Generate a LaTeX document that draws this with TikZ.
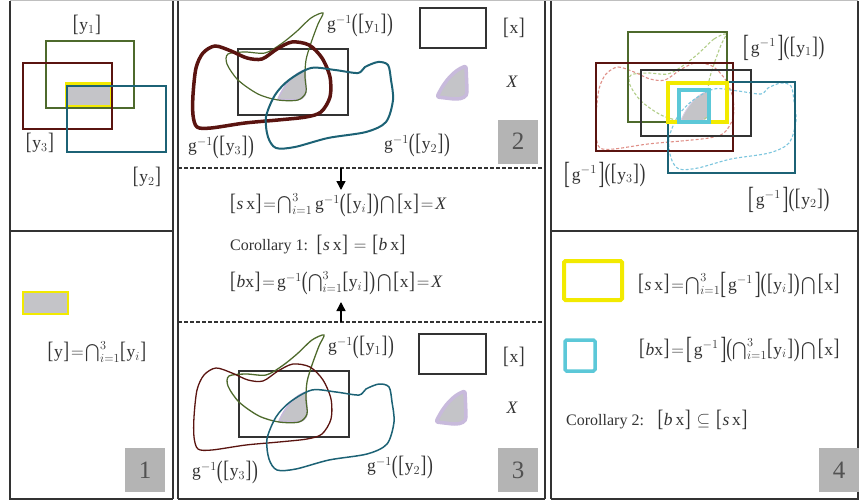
\RequirePackage{fix-cm}
\documentclass[tikz,border=0pt]{standalone}
\usepackage{amsmath}
\usepackage{fontspec}
\setmainfont{Liberation Serif}
\usetikzlibrary{arrows.meta}
\definecolor{fr}{HTML}{333333}
\definecolor{ygreen}{HTML}{4E6A2C}
\definecolor{yred}{HTML}{5A1410}
\definecolor{yteal}{HTML}{1C6275}
\definecolor{lgreen}{HTML}{B2CE88}
\definecolor{lred}{HTML}{E09088}
\definecolor{lteal}{HTML}{7CC6DE}
\definecolor{hyel}{HTML}{F2EA00}
\definecolor{hcyan}{HTML}{5CC8D8}
\definecolor{xgray}{HTML}{C4C4C8}
\definecolor{xlav}{HTML}{C8BADC}
\definecolor{numgray}{HTML}{B4B4B4}
\thickmuskip=2mu plus 1mu
\medmuskip=2mu plus 1mu
\newcommand{\sdelim}[3]{\mbox{\raisebox{#2}{\scalebox{1}[#3]{#1}}}}
\newcommand{\bk}[1]{\mathopen{\sdelim{[}{-0.05em}{1.35}}\mkern0.6mu#1\mkern0.6mu\mathclose{\sdelim{]}{-0.05em}{1.35}}}
\newcommand{\pa}[1]{\mathopen{\sdelim{(}{-0.08em}{1.45}}\mkern0.6mu#1\mkern0.6mu\mathclose{\sdelim{)}{-0.08em}{1.45}}}
\newcommand{\Bk}[1]{\mathopen{\sdelim{[}{-0.2em}{1.75}}\mkern2mu#1\mkern2mu\mathclose{\sdelim{]}{-0.2em}{1.75}}}
\newcommand{\ginv}{\mathrm{g}^{-1}}
\newcommand{\capop}{\mathbin{\textstyle\bigcap}}
\newcommand{\wordsz}{\fontsize{16}{19}\selectfont}
\newcommand{\redcurve}[1]{\draw[#1] plot[smooth cycle] coordinates {(203,53) (215,46) (231,51) (247,58) (262,59) (277,49) (292,42) (309,45) (322,58) (330,77) (330,97) (321,112) (306,117) (278,120) (245,123) (211,128) (197,127) (193,115) (193,95) (196,68)};}
\newcommand{\greencurve}[1]{\draw[#1] plot[smooth cycle] coordinates {(323,13) (311,18) (296,32) (281,44) (265,53) (245,52) (228,54) (227,64) (238,80) (258,94) (278,100) (298,100) (306,92) (305,77) (306,60) (311,43) (318,24)};}
\newcommand{\tealcurve}[1]{\draw[#1] plot[smooth cycle] coordinates {(268,137) (266,117) (275,95) (289,80) (311,68) (335,70) (358,73) (365,67) (378,62) (388,65) (391,80) (393,100) (386,122) (366,132) (328,138) (295,147) (276,148)};}
\newcommand{\xshape}[1]{\draw[#1] (278,99) .. controls (285,83) and (295,73) .. (305,70) -- (306,90) .. controls (306,98) and (301,100) .. (292,100) -- cycle;}
\newcommand{\xblob}[1]{\draw[#1] (437,97) .. controls (445,80) and (455,70) .. (466,66) -- (467,90) .. controls (467,97) and (462,99) .. (454,99) -- cycle;}
\tikzset{
  txt/.style={text=fr, font=\fontsize{17.5}{21}\selectfont, inner sep=0pt},
  numbox/.style={fill=numgray, minimum width=40pt, minimum height=44pt, inner sep=0pt, text=fr!85, font=\fontsize{25}{30}\selectfont},
  frameline/.style={draw=fr, line width=2.5pt},
  innerline/.style={draw=fr, line width=1.5pt},
  sep/.style={draw=fr, line width=1.3pt, dash pattern=on 4pt off 2pt},
  thinrect/.style={line width=1.2pt},
  blackrect/.style={draw=fr, line width=2.2pt},
  ldash/.style={line width=1.1pt, dash pattern=on 3pt off 2pt},
  arr/.style={draw=black, line width=1.4pt, -{Triangle[length=9pt,width=9pt]}}
}
\begin{document}
\begin{tikzpicture}[x=1pt,y=-1pt]
\useasboundingbox (0,0) rectangle (860,503);
\fill[white] (0,0) rectangle (860,503);
% ---------- frames ----------
\draw[frameline] (10,1) -- (10,499) -- (173,499);
\draw[innerline] (173,1) -- (173,499);
\draw[innerline] (10,231) -- (173,231);
\draw[innerline] (178,1) -- (178,499);
\draw[frameline] (178,499) -- (545,499);
\draw[innerline] (545,1) -- (545,499);
\draw[innerline] (551,1) -- (551,499);
\draw[frameline] (551,499) -- (858,499) -- (858,1);
\draw[innerline] (551,231) -- (858,231);
\draw[draw=black!25, line width=1pt] (10,0.6) -- (858,0.6);
\draw[sep] (178,168) -- (545,168);
\draw[sep] (178,322) -- (545,322);
% ---------- panel 1 ----------
\fill[xgray] (66,84) rectangle (111,107);
\draw[hyel, line width=3pt] (66,84) rectangle (111,107);
\draw[ygreen, thinrect] (46,41) rectangle (134,108);
\draw[yred, thinrect] (23,63) rectangle (112,129);
\draw[yteal, thinrect] (67,86) rectangle (166,152);
\node[txt] (ly1) at (87,25) {$\bk{\mathrm{y}_1}$};
\node[txt] (ly3) at (40,143) {$\bk{\mathrm{y}_3}$};
\node[txt] (ly2) at (147,177) {$\bk{\mathrm{y}_2}$};
\fill[xgray] (23,292) rectangle (68,314);
\draw[hyel, line width=2.5pt] (23,292) rectangle (68,314);
\node[txt] (fy) at (97,352) {$\bk{\mathrm{y}}=\bigcap_{i=1}^{3}\bk{\mathrm{y}_i}$};
\node[numbox] (n1) at (145,470) {1};
% ---------- panel 2 ----------
\draw[blackrect] (238,49) rectangle (348,115);
\xshape{fill=xgray, draw=xlav, line width=1.5pt, line join=round}
\greencurve{ygreen, line width=1.2pt}
\redcurve{yred, line width=3.5pt}
\tealcurve{yteal, line width=2pt}
\node[txt, anchor=west] (g1a) at (327,25) {$\ginv\pa{\bk{\mathrm{y}_1}}$};
\node[txt, anchor=west] (g3a) at (188,147) {$\ginv\pa{\bk{\mathrm{y}_3}}$};
\node[txt, anchor=west] (g2a) at (384,145) {$\ginv\pa{\bk{\mathrm{y}_2}}$};
\draw[blackrect] (420,8) rectangle (486,48);
\node[txt] (lxa) at (514,28) {$\bk{\mathrm{x}}$};
\xblob{fill=xgray, draw=xlav, line width=3.5pt, line join=round, rounded corners=2pt}
\node[txt] (lXa) at (512,82) {$\mathit{X}$};
\node[numbox] (n2) at (518,141.5) {2};
% ---------- middle text ----------
\coordinate (a1s) at (341,168);
\coordinate (a1e) at (341,190);
\coordinate (a2s) at (341,322);
\coordinate (a2e) at (341,302);
\draw[arr] (a1s) -- (a1e);
\draw[arr] (a2s) -- (a2e);
\node[txt, anchor=west] (f1) at (230,205) {$\bk{\mathit{s}\,\mathrm{x}}=\bigcap_{i=1}^{3}\ginv\pa{\bk{\mathrm{y}_i}}\capop\bk{\mathrm{x}}=\mathit{X}$};
\node[txt, anchor=west] (c1) at (230,245) {{\wordsz Corollary 1:}\, $\thickmuskip=6mu \bk{\mathit{s}\,\mathrm{x}}=\bk{\mathit{b}\,\mathrm{x}}$};
\node[txt, anchor=west] (f3) at (230,283) {$\bk{\mathit{b}\mathrm{x}}=\ginv\pa{\bigcap_{i=1}^{3}\bk{\mathrm{y}_i}}\capop\bk{\mathrm{x}}=\mathit{X}$};
% ---------- panel 3 ----------
\begin{scope}[shift={(1,322)}]
\draw[blackrect] (238,49) rectangle (348,115);
\xshape{fill=xgray, draw=xlav, line width=1.5pt, line join=round}
\greencurve{ygreen, line width=1.3pt}
\redcurve{yred, line width=1.3pt}
\tealcurve{yteal, line width=1.5pt}
\end{scope}
\node[txt, anchor=west] (g1b) at (328,347) {$\ginv\pa{\bk{\mathrm{y}_1}}$};
\node[txt, anchor=west] (g3b) at (192,472) {$\ginv\pa{\bk{\mathrm{y}_3}}$};
\node[txt, anchor=west] (g2b) at (367,467) {$\ginv\pa{\bk{\mathrm{y}_2}}$};
\draw[blackrect] (419,334) rectangle (486,374);
\node[txt] (lxb) at (514,357) {$\bk{\mathrm{x}}$};
\begin{scope}[shift={(-1,325)}]
\xblob{fill=xgray, draw=xlav, line width=3.5pt, line join=round, rounded corners=2pt}
\end{scope}
\node[txt] (lXb) at (512,408) {$\mathit{X}$};
\node[numbox] (n3) at (518,470) {3};
% ---------- panel 4 (top right) ----------
\begin{scope}[shift={(403,21)}]
\xshape{fill=xgray, draw=xlav!70, line width=0.8pt}
\greencurve{lgreen, ldash}
\redcurve{lred, ldash}
\tealcurve{lteal, ldash}
\end{scope}
\draw[ygreen, thinrect] (628,32) rectangle (727,122);
\draw[yred, thinrect] (596,63) rectangle (733,151);
\draw[blackrect] (641,70) rectangle (751,136);
\draw[yteal, thinrect] (668,82) rectangle (795,173);
\draw[hyel, line width=3.5pt] (668,83) rectangle (727,122);
\draw[hcyan, line width=3.5pt] (679,90) rectangle (709,122);
\node[txt, anchor=west] (gg1) at (743,48) {$\Bk{\ginv}\pa{\bk{\mathrm{y}_1}}$};
\node[txt, anchor=west] (gg3) at (564,175) {$\Bk{\ginv}\pa{\bk{\mathrm{y}_3}}$};
\node[txt, anchor=west] (gg2) at (748,200) {$\Bk{\ginv}\pa{\bk{\mathrm{y}_2}}$};
% ---------- panel 4 (bottom right) ----------
\draw[hyel, line width=4pt, rounded corners=1.5pt] (564,261) rectangle (622,300);
\draw[hcyan, line width=3.5pt, rounded corners=1.5pt] (565,340) rectangle (595,371);
\node[txt, anchor=west] (fs) at (638,285) {$\bk{\mathit{s}\,\mathrm{x}}=\bigcap_{i=1}^{3}\Bk{\ginv}\pa{\bk{\mathrm{y}_i}}\capop\bk{\mathrm{x}}$};
\node[txt, anchor=west] (fb) at (639,350) {$\bk{\mathit{b}\mathrm{x}}=\Bk{\ginv}\pa{\bigcap_{i=1}^{3}\bk{\mathrm{y}_i}}\capop\bk{\mathrm{x}}$};
\node[txt, anchor=west] (c2) at (566,420) {{\wordsz Corollary 2:}\;\, $\thickmuskip=6mu \bk{\mathit{b}\,\mathrm{x}}\subseteq\bk{\mathit{s}\,\mathrm{x}}$};
\node[numbox] (n4) at (839,470) {4};
\end{tikzpicture}
\end{document}
